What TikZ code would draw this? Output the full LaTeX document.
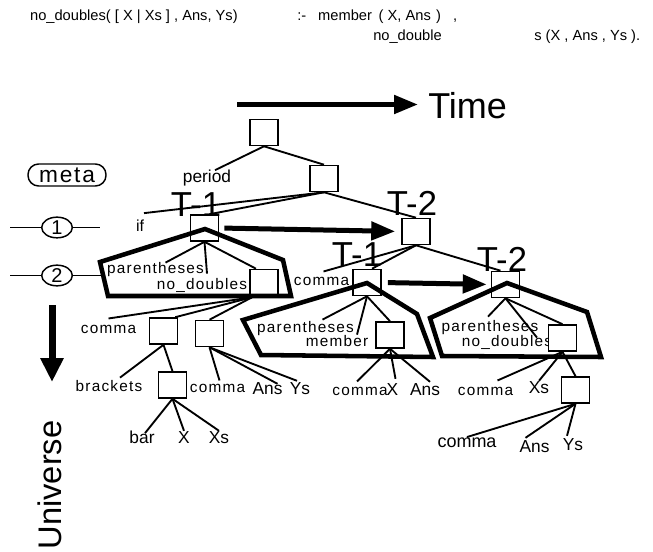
\documentclass[tikz,border=0pt]{standalone}
\usepackage{fontspec}
\setmainfont{Liberation Sans}
\newfontfamily\spacedfont[LetterSpace=8]{Liberation Sans}
\usetikzlibrary{calc,arrows.meta,shapes.geometric}
\begin{document}
\begin{tikzpicture}[x=0.75pt,y=-0.75pt,
  treebox/.style={draw,line width=1.2pt,fill=white,minimum width=21pt,minimum height=19.5pt,inner sep=0pt},
  small/.style={font=\spacedfont\fontsize{11.5}{13}\selectfont,inner sep=0pt,anchor=base},
  term/.style={font=\fontsize{13}{15}\selectfont,inner sep=0pt,anchor=base},
  big/.style={font=\fontsize{26}{30}\selectfont,inner sep=0pt,anchor=base},
  clause/.style={font=\fontsize{11}{13}\selectfont,inner sep=0pt,anchor=base west},
  edge/.style={line width=1.4pt},
  hull/.style={line width=3.4pt,line join=miter},
  move/.style={line width=3.75pt,-{Triangle[length=18pt,width=13.5pt]}},
  level/.style={draw,ellipse,line width=1.1pt,minimum width=23pt,minimum height=15.5pt,inner sep=0pt,font=\fontsize{15}{16}\selectfont},
  thin/.style={line width=1.1pt}
]
\useasboundingbox (0,0) rectangle (653,552);

% the clause being analysed
\node[clause,anchor=base east] (head) at (238,21) {no\_doubles( [ X | Xs ] , Ans, Ys)};
\node[clause] (body1) at (297,21) {:-\hspace{9pt}member\hspace{5pt}( X, Ans\hspace{4pt})\hspace{9pt},};
\node[clause] (body2a) at (373,41) {no\_double};
\node[clause] (body2b) at (534,41) {s (X , Ans , Ys ).};

% time axis
\node[inner sep=0pt,anchor=base west,font=\fontsize{27}{30}\selectfont] (time) at (428,119) {Time};
\coordinate (timeL) at (237,104.5);
\coordinate (timeR) at (418,104.5);

% universe axis
\node[inner sep=0pt,rotate=90,font=\fontsize{24.5}{28}\selectfont] (univ) at (50,485) {Universe};
\coordinate (univT) at (52,305);
\coordinate (univB) at (52,382);

% meta levels
\node[draw,line width=1.1pt,rounded corners=8pt,minimum width=58.5pt,minimum height=16.5pt,inner sep=0pt,
      font=\spacedfont\fontsize{17}{18}\selectfont] (meta) at (67,175) {meta};
\node[level] (lv1) at (57,227.5) {1};
\node[level] (lv2) at (57,275.5) {2};
\coordinate (lv1L) at (10,227.5);
\coordinate (lv1R) at (100,227.5);
\coordinate (lv2L) at (10,275.5);
\coordinate (lv2R) at (102,275.5);

% labels of the trees
\node[term] (period) at (207,183) {period};
\node[inner sep=0pt,anchor=base,font=\fontsize{12}{14}\selectfont] (if) at (140,232) {if};
\node[big] (T1) at (196,217) {T-1};
\node[big] (T2) at (412,216) {T-2};
\node[big] (T1p) at (357,267) {T-1};
\node[big] (T2p) at (502,272) {T-2};

\node[small] (par1) at (155.5,274) {parentheses};
\node[small] (nd1) at (202,290) {no\_doubles};
\node[small] (cm2) at (321.5,286) {comma};
\node[small] (par2) at (305.5,332) {parentheses};
\node[small] (mem2) at (337,346) {member};
\node[small] (par3) at (490,331) {parentheses};
\node[small] (nd3) at (507,346) {no\_doubles};

\node[small] (cmL) at (108.5,333) {comma};
\node[small] (brk) at (109,391) {brackets};
\node[small] (cmB) at (217.5,392) {comma};
\node[term] (ansL) at (267.5,394) {Ans};
\node[term] (ysL) at (300,394) {Ys};
\node[term] (bar) at (142,443) {bar};
\node[term] (xL) at (184,443) {X};
\node[term] (xsL) at (219,443) {Xs};

\node[small] (cmM) at (360,395) {comma};
\node[term] (xM) at (392.5,395) {X};
\node[term] (ansM) at (425,395) {Ans};
\node[small] (cmR) at (485.5,395) {comma};
\node[term] (xsR) at (539,393) {Xs};
\node[inner sep=0pt,anchor=base,font=\fontsize{13.5}{15}\selectfont] (cmBig) at (467,447) {comma};
\node[term] (ansR) at (534.5,452) {Ans};
\node[term] (ysR) at (573,450) {Ys};

% tree nodes
\node[treebox] (root) at (264,132.5) {};
\node[treebox] (b2) at (324,178.5) {};
\node[treebox] (t1) at (204.5,228) {};
\node[treebox] (t2) at (416,231.5) {};
\node[treebox] (ib1) at (264,282.5) {};
\node[treebox] (t1p) at (367,282.5) {};
\node[treebox] (t2p) at (505.5,284.5) {};
\node[treebox] (ib2) at (390,335) {};
\node[treebox] (ib3) at (562.5,338) {};
\node[treebox] (bA) at (163.5,331) {};
\node[treebox] (bB) at (209.5,333.5) {};
\node[treebox] (bC) at (172.5,385) {};
\node[treebox] (bD) at (575.5,390) {};

% branches
\draw[edge] (root.south) -- ($(period.north)+(8,0)$);
\draw[edge] (root.south) -- (b2.north);
\draw[edge] (b2.south) -- ($(if.north)+(4,-7)$);
\draw[edge] (b2.south) -- ($(t1.north)+(5,0)$);
\draw[edge] (b2.south) -- (t2.north);
\draw[edge] (t1.south) -- ($(par1.north)+(10,0)$);
\draw[edge] (t1.south) -- ($(nd1.north)+(5,-5)$);
\draw[edge] (t1.south) -- ($(ib1.north)+(-8,0)$);
\draw[edge] (t2.south) -- ($(cm2.north)+(2,-6)$);
\draw[edge] (t2.south) -- ($(t1p.north)+(5,0)$);
\draw[edge] (t2.south) -- ($(t2p.north)+(-5,0)$);
\draw[edge] (t1p.south) -- ($(par2.north)+(17,-1)$);
\draw[edge] (t1p.south) -- ($(mem2.north)+(20,0)$);
\draw[edge] (t1p.south) -- (ib2.north);
\draw[edge] (t2p.south) -- ($(par3.north)+(-2,-3)$);
\draw[edge] (t2p.south) -- ($(nd3.north)+(30,3)$);
\draw[edge] (t2p.south) -- (ib3.north);

\draw[edge] ($(ib1.south)+(-12,1)$) -- ($(cmL.north)+(0,-6)$);
\draw[edge] ($(ib1.south)+(-12,1)$) -- ($(bA.north east)+(-3,0)$);
\draw[edge] ($(ib1.south)+(-12,1)$) -- (bB.north);
\draw[edge] (bA.south) -- ($(brk.north)+(11,-2)$);
\draw[edge] (bA.south) -- (bC.north);
\draw[edge] (bB.south) -- ($(cmB.north)+(2,-3)$);
\draw[edge] (bB.south) -- ($(ansL.north)+(10,2)$);
\draw[edge] (bB.south) -- ($(ysL.north)+(-3,-1)$);
\draw[edge] (bC.south) -- ($(bar.north)+(3,3)$);
\draw[edge] (bC.south) -- (xL.north);
\draw[edge] (bC.south) -- (xsL.north);
\draw[edge] (ib2.south) -- ($(cmM.north)+(-3,-5)$);
\draw[edge] (ib2.south) -- ($(xM.north)+(3,-4)$);
\draw[edge] (ib2.south) -- ($(ansM.north)+(5,-1)$);
\draw[edge] (ib3.south) -- ($(cmR.north)+(12,-6)$);
\draw[edge] (ib3.south) -- (xsR.north);
\draw[edge] (ib3.south) -- (bD.north);
\draw[edge] (bD.south) -- (cmBig.north);
\draw[edge] (bD.south) -- ($(ansR.north)+(-9,-2)$);
\draw[edge] (bD.south) -- ($(ysR.north)+(-6,-2)$);

% hulls round the rewritten subtrees
\draw[hull] (205,229) -- (283,260) -- (291,296) -- (108,296) -- (100,262) -- cycle;
\draw[hull] (367,283) -- (417,314) -- (433,357) -- (261,355) -- (243,320) -- cycle;
\draw[hull] (507,283) -- (587,312) -- (601,357) -- (442,356) -- (430,318) -- cycle;

% level markers
\draw[thin] (lv1L) -- (lv1.west);
\draw[thin] (lv1.east) -- (lv1R);
\draw[thin] (lv2L) -- (lv2.west);
\draw[thin] (lv2.east) -- (lv2R);

% axes and moves
\draw[move] (timeL) -- (timeR);
\draw[line width=5.25pt,-{Triangle[length=18pt,width=16.5pt]}] (univT) -- (univB);
\draw[move,shorten <=3.75pt,shorten >=4.5pt] (t1.east) -- (t2.west);
\draw[move,shorten <=4.5pt,shorten >=3pt] (t1p.east) -- (t2p.west);
\end{tikzpicture}
\end{document}
